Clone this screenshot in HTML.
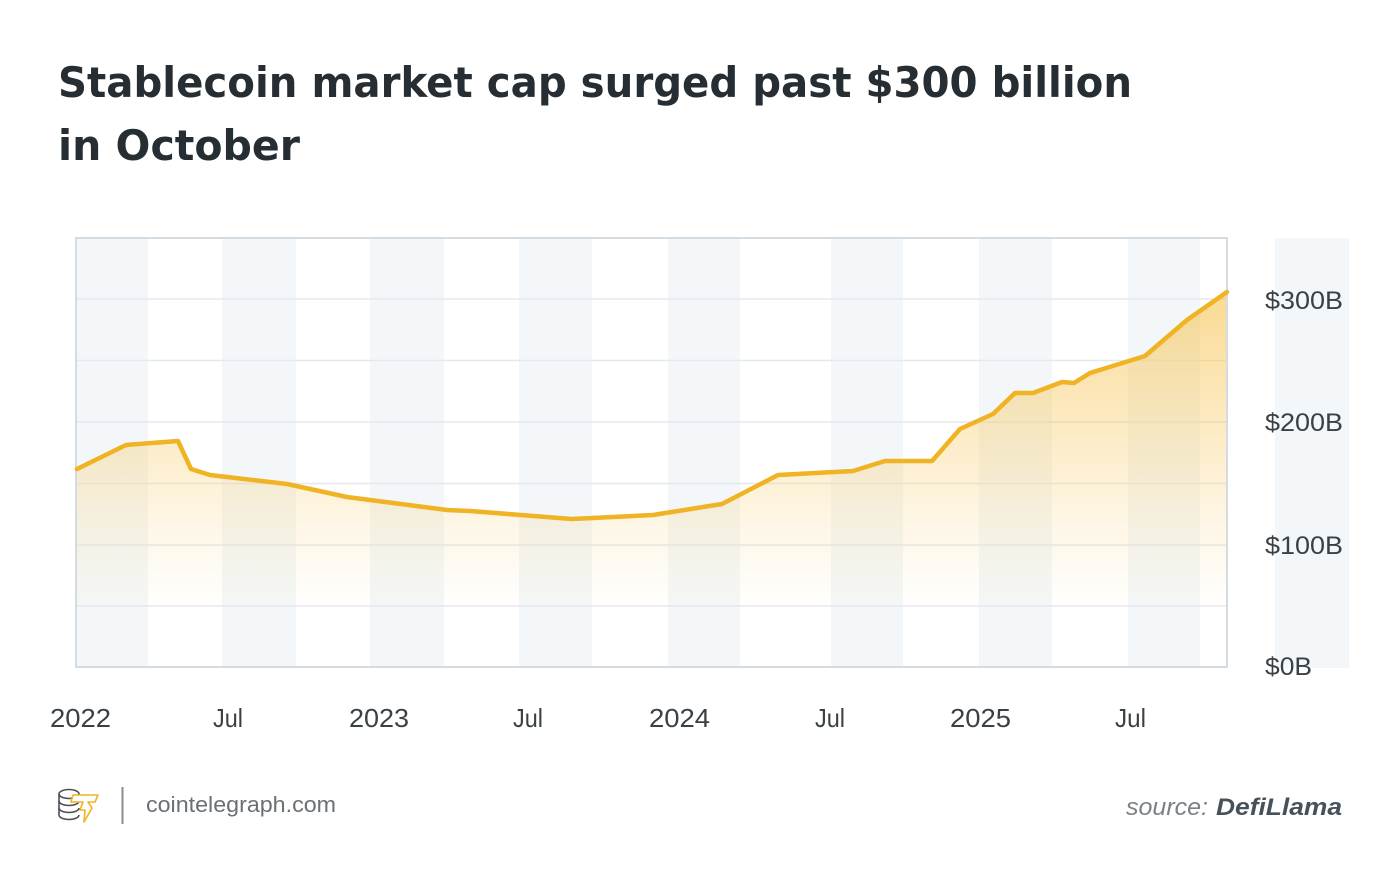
<!DOCTYPE html>
<html>
<head>
<meta charset="utf-8">
<style>
  html, body { margin: 0; padding: 0; background: #ffffff; }
  svg { display: block; }
  text { font-family: "Liberation Sans", "DejaVu Sans", sans-serif; }
  .title { font-family: "DejaVu Sans", "Liberation Sans", sans-serif; }
</style>
</head>
<body>
<svg width="1400" height="883" viewBox="0 0 1400 883" xmlns="http://www.w3.org/2000/svg">
  <defs>
    <linearGradient id="fillg" x1="0" y1="290" x2="0" y2="612" gradientUnits="userSpaceOnUse">
      <stop offset="0" stop-color="#f6c04a" stop-opacity="0.6"/>
      <stop offset="0.55" stop-color="#f7c75a" stop-opacity="0.28"/>
      <stop offset="1" stop-color="#f9d27a" stop-opacity="0"/>
    </linearGradient>
  </defs>
  <rect width="1400" height="883" fill="#ffffff"/>

  <!-- Title -->
  <text class="title" x="58" y="97" font-size="42" font-weight="bold" fill="#262e33" textLength="1074" lengthAdjust="spacingAndGlyphs">Stablecoin market cap surged past $300 billion</text>
  <text class="title" x="58" y="160" font-size="42" font-weight="bold" fill="#262e33" textLength="242" lengthAdjust="spacingAndGlyphs">in October</text>

  <!-- Bands -->
  <g fill="#f4f7f9">
    <rect x="76" y="238" width="72" height="429"/>
    <rect x="222" y="238" width="74" height="429"/>
    <rect x="370" y="238" width="74" height="429"/>
    <rect x="519" y="238" width="73" height="429"/>
    <rect x="668" y="238" width="72" height="429"/>
    <rect x="831" y="238" width="72" height="429"/>
    <rect x="979" y="238" width="73" height="429"/>
    <rect x="1128" y="238" width="72" height="429"/>
    <rect x="1275" y="238" width="74" height="430"/>
  </g>

  <!-- Gridlines -->
  <g stroke="#e5e9ed" stroke-width="1.5">
    <line x1="76" y1="299" x2="1227" y2="299"/>
    <line x1="76" y1="360.5" x2="1227" y2="360.5"/>
    <line x1="76" y1="422" x2="1227" y2="422"/>
    <line x1="76" y1="483.5" x2="1227" y2="483.5"/>
    <line x1="76" y1="545" x2="1227" y2="545"/>
    <line x1="76" y1="606" x2="1227" y2="606"/>
  </g>

  <!-- Area fill -->
  <path fill="url(#fillg)" d="M77,469 L126,445 L178,441 L191,469 L210,475 L287,484 L347,497 L447,510 L470,511 L572,519 L653,515 L722,504 L778,475 L853,471 L885,461 L932,461 L960,429 L993,414 L1015,393 L1033,393 L1062,382 L1074,383 L1090,373 L1145,356 L1187,320 L1227,292 L1227,667 L77,667 Z"/>

  <!-- Plot border -->
  <rect x="76" y="238" width="1151" height="429" fill="none" stroke="#d4dce2" stroke-width="2"/>

  <!-- Line -->
  <polyline fill="none" stroke="#efb323" stroke-width="4.5" stroke-linejoin="round" stroke-linecap="round"
    points="77,469 126,445 178,441 191,469 210,475 287,484 347,497 447,510 470,511 572,519 653,515 722,504 778,475 853,471 885,461 932,461 960,429 993,414 1015,393 1033,393 1062,382 1074,383 1090,373 1145,356 1187,320 1227,292"/>

  <!-- Y labels -->
  <g font-size="25" fill="#3a4146">
    <text x="1265" y="309" textLength="78" lengthAdjust="spacingAndGlyphs">$300B</text>
    <text x="1265" y="431" textLength="78" lengthAdjust="spacingAndGlyphs">$200B</text>
    <text x="1265" y="554" textLength="78" lengthAdjust="spacingAndGlyphs">$100B</text>
    <text x="1265" y="675" textLength="47" lengthAdjust="spacingAndGlyphs">$0B</text>
  </g>

  <!-- X labels -->
  <g font-size="26" fill="#3a4146">
    <text x="50" y="727" textLength="61" lengthAdjust="spacingAndGlyphs">2022</text>
    <text x="213" y="727" textLength="30" lengthAdjust="spacingAndGlyphs">Jul</text>
    <text x="349" y="727" textLength="60" lengthAdjust="spacingAndGlyphs">2023</text>
    <text x="513" y="727" textLength="30" lengthAdjust="spacingAndGlyphs">Jul</text>
    <text x="649" y="727" textLength="61" lengthAdjust="spacingAndGlyphs">2024</text>
    <text x="815" y="727" textLength="30" lengthAdjust="spacingAndGlyphs">Jul</text>
    <text x="950" y="727" textLength="61" lengthAdjust="spacingAndGlyphs">2025</text>
    <text x="1115" y="727" textLength="31" lengthAdjust="spacingAndGlyphs">Jul</text>
  </g>

  <!-- Footer logo -->
  <g fill="none" stroke="#4a5057" stroke-width="1.6">
    <ellipse cx="69" cy="794" rx="10" ry="4.5"/>
    <path d="M59,794 v7 a10,4.5 0 0 0 20,0"/>
    <path d="M59,801 v7 a10,4.5 0 0 0 20,0"/>
    <path d="M59,808 v7 a10,4.5 0 0 0 20,0"/>
  </g>
  <path d="M73,795 L98,795 L95,802 L88,802 L92,808 L84,822 L85,810 L80,810 L83,802 L71,802 Z" fill="#ffffff" stroke="#f0b323" stroke-width="1.6" stroke-linejoin="round"/>
  <line x1="122.5" y1="787" x2="122.5" y2="824" stroke="#8a8f94" stroke-width="2"/>
  <text x="146" y="812" font-size="22" fill="#6b7075" textLength="190" lengthAdjust="spacingAndGlyphs">cointelegraph.com</text>

  <!-- Source -->
  <text x="1126" y="815" font-size="24" font-style="italic" fill="#7c8186" textLength="82" lengthAdjust="spacingAndGlyphs">source:</text>
  <text x="1216" y="815" font-size="24" font-style="italic" font-weight="bold" fill="#46515b" textLength="126" lengthAdjust="spacingAndGlyphs">DefiLlama</text>
</svg>
</body>
</html>
